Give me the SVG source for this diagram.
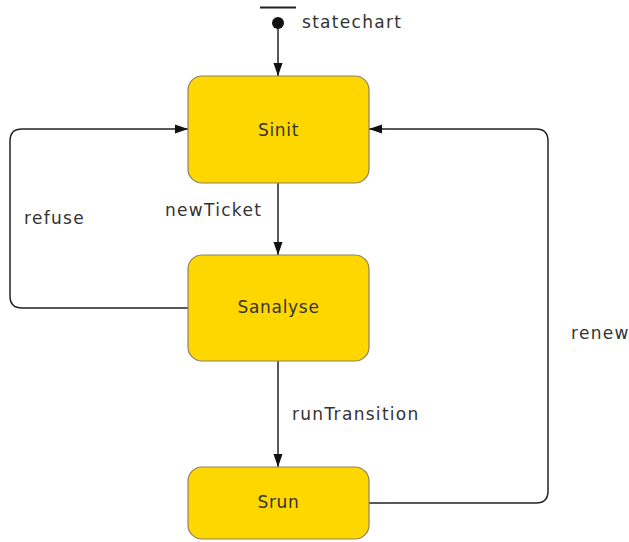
<svg xmlns="http://www.w3.org/2000/svg" width="629" height="542" viewBox="0 0 629 542">
  <defs>
    <marker id="arrow" viewBox="0 0 12 10" refX="12" refY="5" markerWidth="13" markerHeight="11" markerUnits="userSpaceOnUse" orient="auto">
      <path d="M0,0.8 L12,5 L0,9.2 Z" fill="#111"/>
    </marker>
    <style>
      .state { fill: #FFD700; stroke: #8f8060; stroke-width: 1.2; }
      .name { font-family: "DejaVu Sans", sans-serif; font-size: 17px; fill: #333; text-anchor: middle; letter-spacing: 0.7px; }
      .label { font-family: "DejaVu Sans", sans-serif; font-size: 17px; fill: #333; letter-spacing: 1.3px; }
      .edge { fill: none; stroke: #222; stroke-width: 1.5; }
    </style>
  </defs>
  <rect width="629" height="542" fill="#fff"/>

  <g id="connectors">
    <path class="edge" d="M278,23 L278,76" marker-end="url(#arrow)"/>
    <path class="edge" d="M278,183 L278,255" marker-end="url(#arrow)"/>
    <path class="edge" d="M278,361 L278,467" marker-end="url(#arrow)"/>
    <path class="edge" d="M188,308 L22,308 Q10,308 10,296 L10,141 Q10,129 22,129 L188,129" marker-end="url(#arrow)"/>
    <path class="edge" d="M369,503 L536,503 Q548,503 548,491 L548,141 Q548,129 536,129 L369,129" marker-end="url(#arrow)"/>
    <text class="label" x="165" y="216">newTicket</text>
    <text class="label" x="24" y="224">refuse</text>
    <text class="label" x="292" y="420">runTransition</text>
    <text class="label" x="571" y="339">renew</text>
  </g>

  <g id="initial">
    <line x1="260" y1="7.5" x2="296" y2="7.5" stroke="#222" stroke-width="2"/>
    <circle cx="278" cy="23" r="6" fill="#111"/>
    <text class="label" x="302" y="28">statechart</text>
  </g>

  <g id="Sinit">
    <rect class="state" x="188" y="76" width="181" height="107" rx="14"/>
    <text class="name" x="278.5" y="136">Sinit</text>
  </g>

  <g id="Sanalyse">
    <rect class="state" x="188" y="255" width="181" height="106" rx="14"/>
    <text class="name" x="278.5" y="313">Sanalyse</text>
  </g>

  <g id="Srun">
    <rect class="state" x="188" y="467" width="181" height="72" rx="14"/>
    <text class="name" x="278.5" y="508">Srun</text>
  </g>
</svg>
